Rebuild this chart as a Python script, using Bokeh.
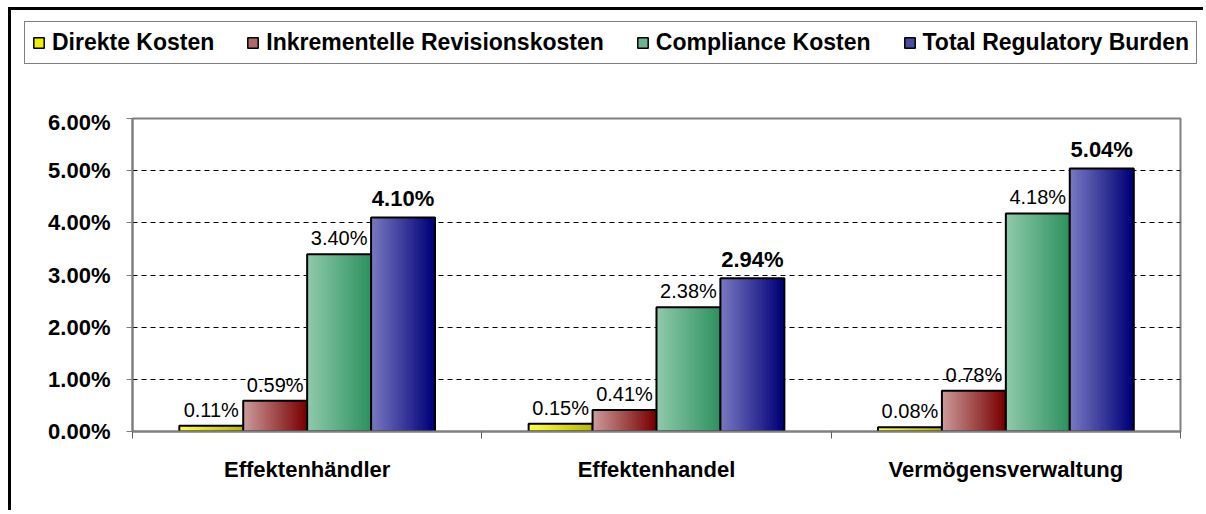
import numpy as np
from bokeh.plotting import figure
from bokeh.models import Range1d, FixedTicker, PrintfTickFormatter, Legend, LegendItem, ColumnDataSource
from bokeh.embed import file_html
from bokeh.resources import INLINE
from bokeh.core.properties import value

# ---------------- data ----------------
categories = ["Effektenhändler", "Effektenhandel", "Vermögensverwaltung"]
series_names = ["Direkte Kosten", "Inkrementelle Revisionskosten",
                "Compliance Kosten", "Total Regulatory Burden"]
direkte_kosten = [0.11, 0.15, 0.08]
inkrementelle_revisionskosten = [0.59, 0.41, 0.78]
compliance_kosten = [3.40, 2.38, 4.18]
total_regulatory_burden = [4.10, 2.94, 5.04]
y_ticks = [0, 1, 2, 3, 4, 5, 6]

series_values = [direkte_kosten, inkrementelle_revisionskosten,
                 compliance_kosten, total_regulatory_burden]

# ---------------- styles ----------------
left_colors = ["#FFFF44", "#CC9C9C", "#90CAAC", "#7A7AC2"]
right_colors = ["#B8B800", "#7A0000", "#2F9260", "#000078"]
legend_colors = ["#F0F000", "#B06A6A", "#6DB68D", "#4B4BA0"]
label_bold = [False, False, False, True]
FONT = "Liberation Sans"
bar_w = 0.183
offsets = [-0.2745, -0.0915, 0.0915, 0.2745]
N_STRIPS = 48
W = 1195


def hex_to_rgb(h):
    h = h.lstrip("#")
    return np.array([int(h[i:i + 2], 16) for i in (0, 2, 4)], dtype=float)


def rgb_to_hex(c):
    return "#%02x%02x%02x" % tuple(int(round(v)) for v in c)


# ---------------- legend strip (top) ----------------
lg = figure(width=W, height=102, x_range=Range1d(0, 1), y_range=Range1d(0, 1),
            output_backend="svg", toolbar_location=None,
            x_axis_type=None, y_axis_type=None,
            min_border=0, min_border_left=0, min_border_right=0,
            min_border_top=0, min_border_bottom=0,
            outline_line_color=None,
            background_fill_color="white", border_fill_color="white")
lg.xgrid.visible = False
lg.ygrid.visible = False
lg.styles = {"margin-left": "8px", "margin-top": "7px",
             "border-left": "3px solid black", "border-top": "3px solid black"}

# ---------------- main chart ----------------
p = figure(width=W, height=401,
           x_range=Range1d(-0.5, 2.5), y_range=Range1d(0, 6),
           output_backend="svg", toolbar_location=None,
           min_border_left=121, min_border_right=26,
           min_border_top=9, min_border_bottom=79,
           background_fill_color="white", border_fill_color="white")
p.styles = {"margin-left": "8px", "border-left": "3px solid black"}

p.outline_line_color = "#808080"
p.outline_line_width = 2

# grid
p.xgrid.visible = False
p.ygrid.ticker = FixedTicker(ticks=y_ticks[1:-1])
p.ygrid.grid_line_color = "black"
p.ygrid.grid_line_dash = "5 4"
p.ygrid.grid_line_width = 1

# y axis
p.yaxis.ticker = FixedTicker(ticks=y_ticks)
p.yaxis.formatter = PrintfTickFormatter(format="%.2f%%")
p.yaxis.axis_line_color = "#808080"
p.yaxis.axis_line_width = 2
p.yaxis.major_tick_line_color = "#808080"
p.yaxis.major_tick_out = 6
p.yaxis.major_tick_in = 0
p.yaxis.minor_tick_line_color = None
p.yaxis.major_label_text_font = FONT
p.yaxis.major_label_text_font_size = "22px"
p.yaxis.major_label_text_font_style = "bold"
p.yaxis.major_label_text_color = "black"
p.yaxis.major_label_standoff = 16

# x axis
idx = list(range(len(categories)))
p.xaxis.ticker = FixedTicker(ticks=idx,
                             minor_ticks=[i - 0.5 for i in idx] + [idx[-1] + 0.5])
p.xaxis.major_label_overrides = {i: c for i, c in zip(idx, categories)}
p.xaxis.axis_line_color = "#808080"
p.xaxis.axis_line_width = 2
p.xaxis.major_tick_line_color = None
p.xaxis.major_tick_out = 0
p.xaxis.major_tick_in = 0
p.xaxis.minor_tick_line_color = "#606060"
p.xaxis.minor_tick_out = 7
p.xaxis.minor_tick_in = 0
p.xaxis.major_label_text_font = FONT
p.xaxis.major_label_text_font_size = "22px"
p.xaxis.major_label_text_font_style = "bold"
p.xaxis.major_label_text_color = "black"
p.xaxis.major_label_standoff = 18

legend_items = []
for s, (name, vals) in enumerate(zip(series_names, series_values)):
    lc = hex_to_rgb(left_colors[s])
    rc = hex_to_rgb(right_colors[s])
    strip_offsets = offsets[s] - bar_w / 2 + (np.arange(N_STRIPS) + 0.5) * bar_w / N_STRIPS
    strip_cols = [rgb_to_hex(lc + (rc - lc) * t) for t in np.linspace(0, 1, N_STRIPS)]
    xs, tops, cols = [], [], []
    for i, v in zip(idx, vals):
        xs.extend(list(i + strip_offsets))
        tops.extend([v] * N_STRIPS)
        cols.extend(strip_cols)
    p.vbar(x=xs, top=tops, bottom=0, width=bar_w / N_STRIPS * 2.0,
           fill_color=cols, line_color=None)
    # outline
    bx = [i + offsets[s] for i in idx]
    p.vbar(x=bx, top=vals, bottom=0, width=bar_w,
           fill_color=None, line_color="black", line_width=2)
    # labels
    src = ColumnDataSource(dict(x=bx, y=vals, t=["%.2f%%" % v for v in vals]))
    p.text(x="x", y="y", text="t", source=src,
           text_font=value(FONT),
           text_font_size="22px" if label_bold[s] else "20px",
           text_font_style="bold" if label_bold[s] else "normal",
           text_align="center", text_baseline="alphabetic",
           y_offset=-19 if label_bold[s] else -16, text_color="black")
    # legend swatch proxy (outside the visible range of the legend strip)
    r = lg.vbar(x=[0.5], top=[-1], bottom=[-2], width=0.1,
                fill_color=legend_colors[s], line_color="black", line_width=1.5)
    legend_items.append(LegendItem(label=name, renderers=[r]))

legend = Legend(items=legend_items, orientation="horizontal",
                location=(13, 48), margin=0, padding=7,
                spacing=32, label_standoff=7,
                glyph_width=13, glyph_height=13,
                label_text_font=FONT, label_text_font_size="23px",
                label_text_font_style="bold", label_text_color="black",
                border_line_color="black", border_line_width=1,
                background_fill_color="white", background_fill_alpha=1)
lg.add_layout(legend, "center")

open("out.html", "w").write(file_html([lg, p], INLINE))
